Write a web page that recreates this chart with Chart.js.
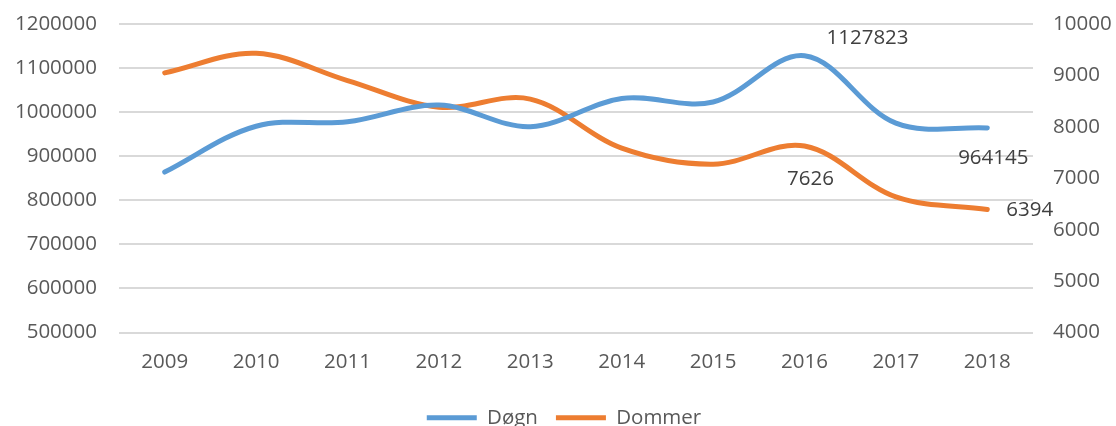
<!DOCTYPE html>
<html>
<head>
<meta charset="utf-8">
<script src="https://cdn.jsdelivr.net/npm/chart.js@4/dist/chart.umd.min.js"></script>
<style>
  html, body { margin: 0; padding: 0; background: #fff; }
  #wrap { width: 1116px; height: 426px; }
</style>
</head>
<body>
<div id="wrap"><canvas id="chart" width="1116" height="426"></canvas></div>
<script>
const years = ["2009", "2010", "2011", "2012", "2013", "2014", "2015", "2016", "2017", "2018"];
const dogn = [864000, 968000, 978000, 1016000, 967000, 1031000, 1023000, 1127823, 975000, 964145];
const dommer = [9050, 9430, 8900, 8383, 8539, 7584, 7273, 7626, 6636, 6394];

// which points get a value label, and where it sits relative to the point
const labelSpots = [
  { ds: 0, i: 7, dx: 22, dy: -18, align: "left" },
  { ds: 0, i: 9, dx: 6, dy: 30, align: "center" },
  { ds: 1, i: 7, dx: 6, dy: 33, align: "center" },
  { ds: 1, i: 9, dx: 19, dy: 1, align: "left" }
];

const font = "'Open Sans', 'Liberation Sans', sans-serif";
const fs = 20.5;

const valueLabels = {
  id: "valueLabels",
  afterDatasetsDraw(chart) {
    const ctx = chart.ctx;
    ctx.save();
    ctx.font = fs + "px " + font;
    ctx.fillStyle = "#404040";
    ctx.textBaseline = "middle";
    labelSpots.forEach(s => {
      const pt = chart.getDatasetMeta(s.ds).data[s.i];
      const v = chart.data.datasets[s.ds].data[s.i];
      ctx.textAlign = s.align;
      ctx.fillText(String(v), pt.x + s.dx, pt.y + s.dy);
    });
    ctx.restore();
  }
};

const plain = v => String(v);

// keep the y axes from pushing the plot down for their end labels
function fitY(width) {
  return scale => {
    scale.width = width;
    scale.paddingTop = 0;
    scale.paddingBottom = 0;
  };
}

new Chart(document.getElementById("chart"), {
  type: "line",
  data: {
    labels: years,
    datasets: [
      {
        label: "Døgn",
        data: dogn,
        yAxisID: "y",
        borderColor: "#5b9bd5",
        backgroundColor: "#5b9bd5",
        borderWidth: 5,
        borderCapStyle: "round",
        tension: 0.35,
        pointRadius: 0
      },
      {
        label: "Dommer",
        data: dommer,
        yAxisID: "y1",
        borderColor: "#ed7d31",
        backgroundColor: "#ed7d31",
        borderWidth: 5,
        borderCapStyle: "round",
        tension: 0.35,
        pointRadius: 0
      }
    ]
  },
  options: {
    responsive: false,
    animation: false,
    layout: { padding: { top: 24, left: 12, right: 0, bottom: -12 } },
    plugins: {
      tooltip: { enabled: false },
      legend: {
        position: "bottom",
        labels: {
          boxWidth: 50,
          boxHeight: 0,
          color: "#595959",
          font: { family: font, size: fs },
          padding: 18
        }
      }
    },
    scales: {
      x: {
        offset: true,
        grid: { display: false },
        border: { display: false },
        ticks: { color: "#595959", font: { family: font, size: fs }, padding: 9 },
        afterFit(scale) { scale.height = 57; }
      },
      y: {
        position: "left",
        min: 500000,
        max: 1200000,
        ticks: { stepSize: 100000, color: "#595959", font: { family: font, size: fs }, padding: 22, callback: plain },
        grid: { color: "#d9d9d9", lineWidth: 2, drawTicks: false },
        border: { display: false },
        afterFit: fitY(107)
      },
      y1: {
        position: "right",
        min: 4000,
        max: 10000,
        ticks: { stepSize: 1000, color: "#595959", font: { family: font, size: fs }, padding: 20, callback: plain },
        grid: { display: false, drawTicks: false },
        border: { display: false },
        afterFit: fitY(83)
      }
    }
  },
  plugins: [valueLabels]
});
</script>
</body>
</html>
